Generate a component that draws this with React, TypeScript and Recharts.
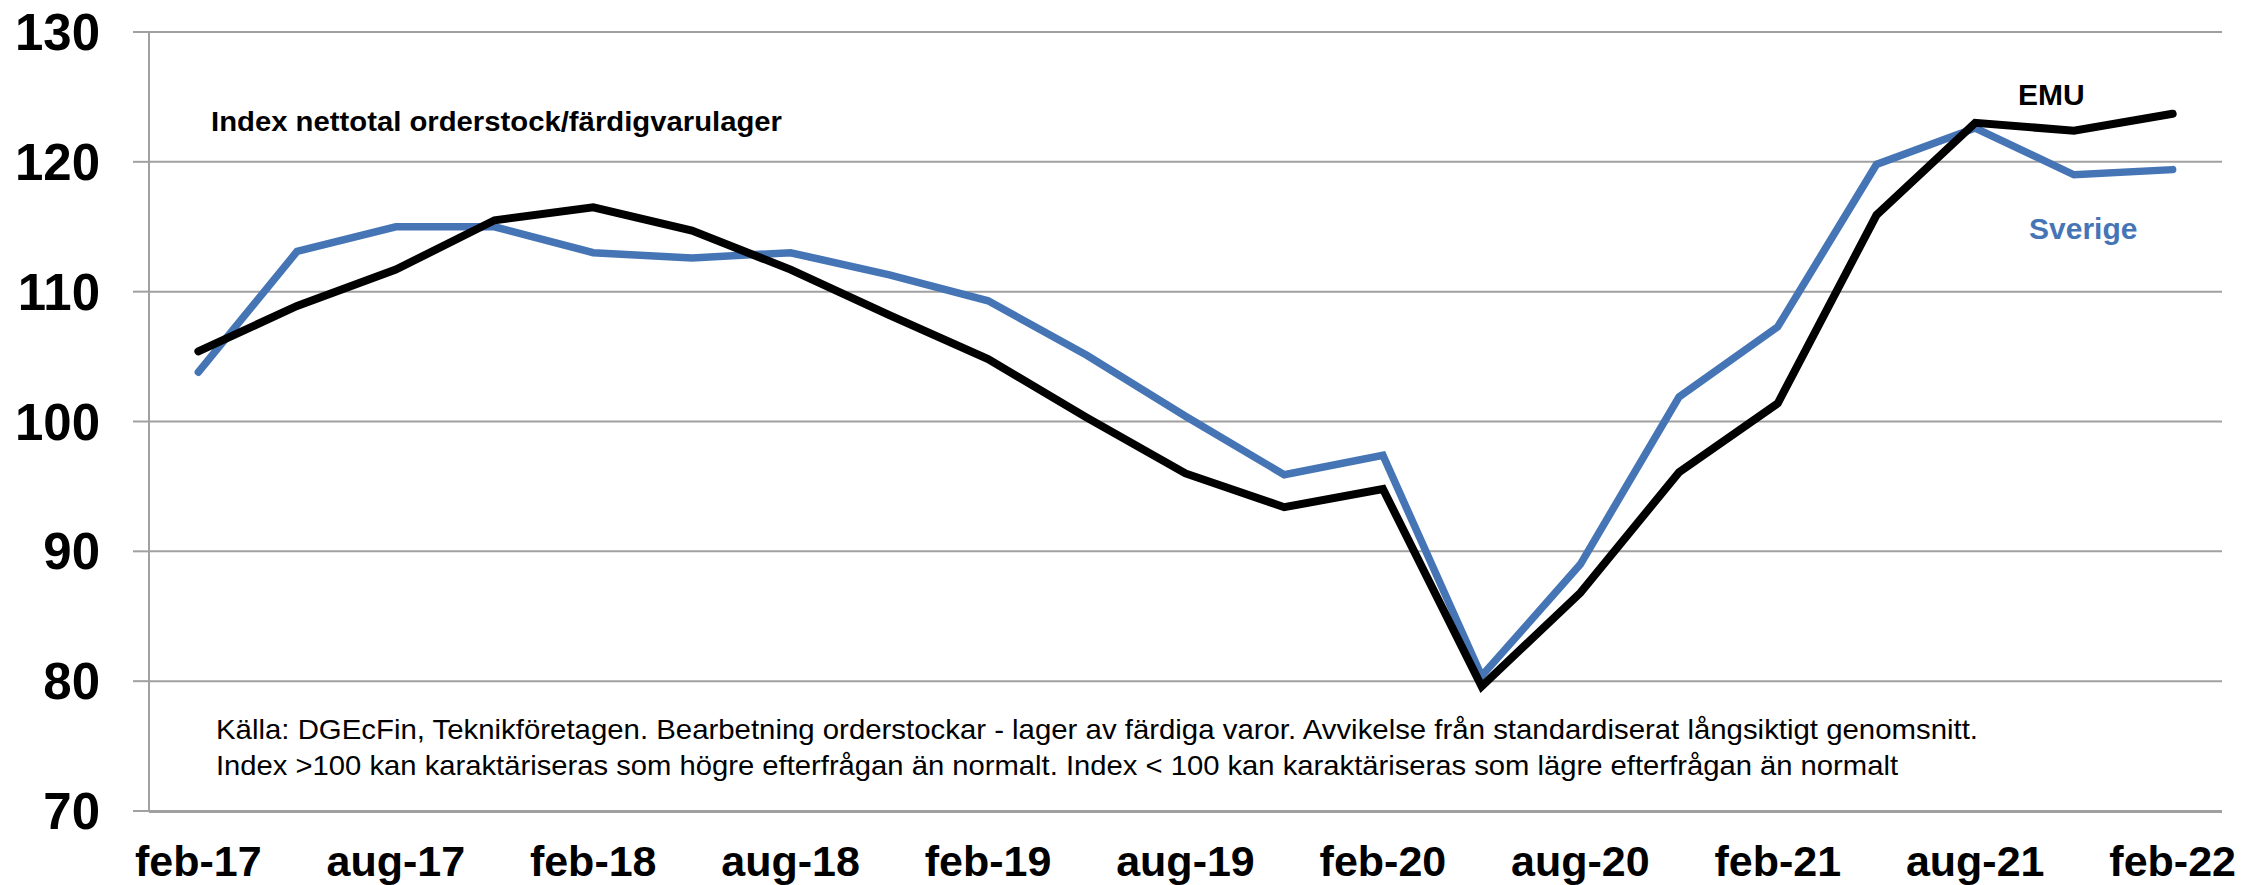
import React from "react";
import { CartesianGrid, Line, LineChart, XAxis, YAxis } from "recharts";

// quarterly observations, feb-17 .. feb-22
const quarters = [
  "feb-17", "maj-17", "aug-17", "nov-17",
  "feb-18", "maj-18", "aug-18", "nov-18",
  "feb-19", "maj-19", "aug-19", "nov-19",
  "feb-20", "maj-20", "aug-20", "nov-20",
  "feb-21", "maj-21", "aug-21", "nov-21",
  "feb-22",
];

const sverige = [
  103.8, 113.1, 115.0, 115.0, 113.0, 112.6, 113.0, 111.3, 109.3, 105.1, 100.4,
  95.9, 97.4, 80.4, 89.0, 101.9, 107.3, 119.8, 122.6, 119.0, 119.4,
];

const emu = [
  105.4, 108.9, 111.7, 115.5, 116.5, 114.7, 111.7, 108.2, 104.8, 100.3, 96.0,
  93.4, 94.8, 79.6, 86.8, 96.1, 101.4, 115.9, 123.0, 122.4, 123.7,
];

const yTicks = [70, 80, 90, 100, 110, 120, 130];
const labelTicks = [0, 2, 4, 6, 8, 10, 12, 14, 16, 18, 20];
const markTicks = [-0.5, 1.5, 3.5, 5.5, 7.5, 9.5, 11.5, 13.5, 15.5, 17.5, 19.5];

const data = quarters.map((q, i) => ({
  i,
  quarter: q,
  sverige: sverige[i],
  emu: emu[i],
}));

const FONT = "'Liberation Sans', Arial, Helvetica, sans-serif";
const GRAY = "#a0a0a0";
const BLUE = "#4675b6";

export default function App() {
  return (
    <div style={{ position: "absolute", left: 0, top: 0, width: 2265, height: 885, background: "#fff" }}>
      <LineChart
        width={2265}
        height={885}
        data={data}
        margin={{ top: 32, right: 43, left: 0, bottom: 72 }}
        style={{ fontFamily: FONT }}
      >
        <CartesianGrid vertical={false} stroke={GRAY} strokeWidth={2} />
        {/* two thin bottom axes: tick marks between quarters, labels on every other quarter */}
        <XAxis
          xAxisId="marks"
          type="number"
          dataKey="i"
          domain={[-0.5, 20.5]}
          ticks={markTicks}
          interval={0}
          tick={false}
          tickSize={12}
          height={1}
          stroke={GRAY}
          strokeWidth={2}
        />
        <XAxis
          xAxisId="labels"
          type="number"
          dataKey="i"
          domain={[-0.5, 20.5]}
          ticks={labelTicks}
          interval={0}
          tickFormatter={(v) => quarters[v]}
          axisLine={false}
          tickLine={false}
          tickSize={12}
          tickMargin={22}
          height={1}
          tick={{ fill: "#000", fontSize: 43, fontWeight: "bold", fontFamily: FONT }}
        />
        <YAxis
          domain={[70, 130]}
          ticks={yTicks}
          interval={0}
          width={149}
          tickSize={16}
          tickMargin={33}
          stroke={GRAY}
          strokeWidth={2}
          tick={{ fill: "#000", fontSize: 51, fontWeight: "bold", fontFamily: FONT }}
        />
        <Line
          xAxisId="labels"
          dataKey="sverige"
          stroke={BLUE}
          strokeWidth={7.5}
          strokeLinecap="round"
          dot={false}
          isAnimationActive={false}
        />
        <Line
          xAxisId="labels"
          dataKey="emu"
          stroke="#000"
          strokeWidth={8}
          strokeLinecap="round"
          dot={false}
          isAnimationActive={false}
        />
      </LineChart>
      <svg
        width={2265}
        height={885}
        style={{ position: "absolute", left: 0, top: 0, pointerEvents: "none", fontFamily: FONT }}
      >
        <text x={211} y={131} fontSize={27} fontWeight="bold" fill="#000" textLength={571} lengthAdjust="spacingAndGlyphs">
          Index nettotal orderstock/färdigvarulager
        </text>
        <text x={2018} y={105} fontSize={30} fontWeight="bold" fill="#000">
          EMU
        </text>
        <text x={2029} y={239} fontSize={30} fontWeight="bold" fill={BLUE}>
          Sverige
        </text>
        <text x={216} y={739} fontSize={28} fill="#000" textLength={1762} lengthAdjust="spacingAndGlyphs">
          Källa: DGEcFin, Teknikföretagen. Bearbetning orderstockar - lager av färdiga varor. Avvikelse från standardiserat långsiktigt genomsnitt.
        </text>
        <text x={216} y={775} fontSize={28} fill="#000" textLength={1682} lengthAdjust="spacingAndGlyphs">
          Index &gt;100 kan karaktäriseras som högre efterfrågan än normalt. Index &lt; 100 kan karaktäriseras som lägre efterfrågan än normalt
        </text>
      </svg>
    </div>
  );
}
